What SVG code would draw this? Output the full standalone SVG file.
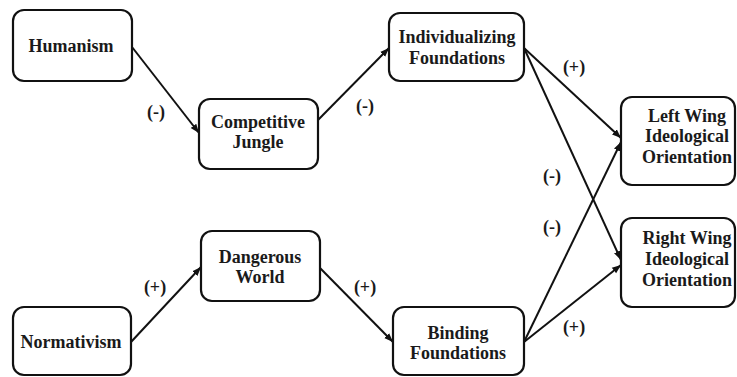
<svg xmlns="http://www.w3.org/2000/svg" width="737" height="377" viewBox="0 0 737 377">
<style>
.box{fill:#fff;stroke:#111;stroke-width:2.2}
.t{font-family:"Liberation Serif","Times New Roman",serif;font-weight:bold;font-size:18px;fill:#1a1a1a;text-anchor:middle}
.c{stroke:#111;stroke-width:2;fill:none;marker-end:url(#ah)}
</style>
<defs>
<marker id="ah" markerUnits="userSpaceOnUse" markerWidth="10" markerHeight="8" refX="9" refY="4" orient="auto">
<path d="M0,0.5 L9,4 L0,7.5 Z" fill="#111"/>
</marker>
</defs>
<rect width="737" height="377" fill="#fff"/>
<g id="connectors">
<line class="c" x1="132" y1="47" x2="199" y2="133"/>
<line class="c" x1="318" y1="120" x2="389" y2="48"/>
<line class="c" x1="524" y1="48" x2="621" y2="138"/>
<line class="c" x1="524" y1="48" x2="621" y2="260"/>
<line class="c" x1="131" y1="342" x2="201" y2="267"/>
<line class="c" x1="320" y1="268" x2="393" y2="342"/>
<line class="c" x1="524" y1="342" x2="621" y2="142"/>
<line class="c" x1="524" y1="342" x2="621" y2="265"/>
<text class="t" x="156" y="118">(-)</text>
<text class="t" x="365" y="112">(-)</text>
<text class="t" x="574" y="73">(+)</text>
<text class="t" x="552" y="182">(-)</text>
<text class="t" x="552" y="233">(-)</text>
<text class="t" x="574" y="333">(+)</text>
<text class="t" x="155" y="293">(+)</text>
<text class="t" x="365" y="293">(+)</text>
</g>
<g id="humanism">
<rect class="box" x="13" y="10" width="119" height="71" rx="11"/>
<text class="t" x="71" y="52">Humanism</text>
</g>
<g id="competitive-jungle">
<rect class="box" x="199" y="99" width="119" height="70" rx="11"/>
<text class="t" x="258" y="128">Competitive</text>
<text class="t" x="258" y="148">Jungle</text>
</g>
<g id="individualizing-foundations">
<rect class="box" x="389" y="13" width="135" height="68" rx="11"/>
<text class="t" x="457" y="43">Individualizing</text>
<text class="t" x="457" y="64">Foundations</text>
</g>
<g id="left-wing">
<rect class="box" x="621" y="97" width="114" height="88" rx="11"/>
<text class="t" x="687" y="122">Left Wing</text>
<text class="t" x="687" y="142">Ideological</text>
<text class="t" x="687" y="163">Orientation</text>
</g>
<g id="right-wing">
<rect class="box" x="621" y="218" width="114" height="89" rx="11"/>
<text class="t" x="687" y="244">Right Wing</text>
<text class="t" x="687" y="265">Ideological</text>
<text class="t" x="687" y="286">Orientation</text>
</g>
<g id="dangerous-world">
<rect class="box" x="201" y="231" width="119" height="70" rx="11"/>
<text class="t" x="260" y="263">Dangerous</text>
<text class="t" x="260" y="283">World</text>
</g>
<g id="normativism">
<rect class="box" x="13" y="307" width="118" height="68" rx="11"/>
<text class="t" x="71" y="348">Normativism</text>
</g>
<g id="binding-foundations">
<rect class="box" x="393" y="307" width="131" height="68" rx="11"/>
<text class="t" x="458" y="339">Binding</text>
<text class="t" x="458" y="359">Foundations</text>
</g>
</svg>
